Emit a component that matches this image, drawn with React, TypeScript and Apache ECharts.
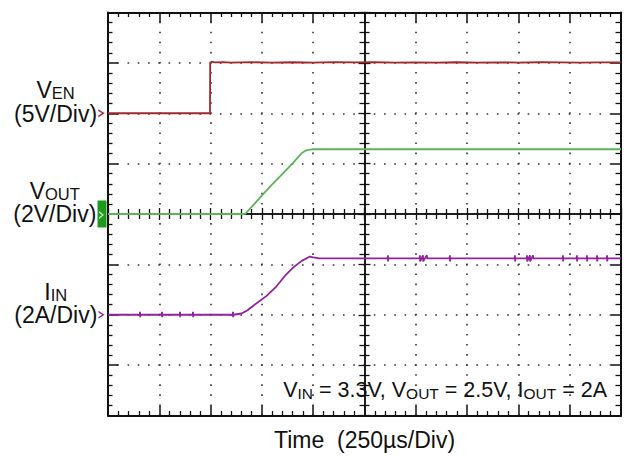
import { useEffect, useRef } from "react";
import * as echarts from "echarts";

// ---- Scope settings ----
const X_MIN_US = 0;
const X_MAX_US = 2500;
const TIME_PER_DIV_US = 250;
const Y_HALF_DIVS = 4;

// channel scale (units per division) and ground-marker offset (divisions from centre)
const VEN_SCALE = 5;
const VEN_OFFSET = 2;
const VOUT_SCALE = 2;
const VOUT_OFFSET = 0;
const IIN_SCALE = 2;
const IIN_OFFSET = -2;

// ---- Traces: [time µs, value in V or A] ----
const venPoints: [number, number][] = [
  [0, 0], [497, 0], [498, 5.0], [505, 5.12], [520, 5.05], [560, 5.08], [600, 5.03],
  [700, 5.07], [800, 5.02], [900, 5.06], [1000, 5.03], [1100, 5.07], [1200, 5.04],
  [1300, 5.06], [1400, 5.02], [1500, 5.05], [1600, 5.03], [1700, 5.06], [1800, 5.02],
  [1900, 5.05], [2000, 5.03], [2100, 5.06], [2200, 5.04], [2300, 5.02], [2400, 5.05], [2500, 5.04],
];

const voutPoints: [number, number][] = [
  [0, 0], [668, 0], [700, 0.28], [757, 0.8], [800, 1.18], [854, 1.62],
  [903, 2.04], [944, 2.42], [970, 2.54], [993, 2.57], [2500, 2.57],
];

const iinPoints: [number, number][] = [
  [0, 0], [155, 0], [156, 0.12], [157, -0.1], [158, 0],
  [262, 0], [263, 0.12], [264, -0.1], [265, 0],
  [350, 0], [351, 0.12], [352, -0.1], [353, 0],
  [413, 0], [414, 0.12], [415, -0.1], [416, 0],
  [608, 0], [609, 0.12], [610, -0.1], [611, 0],
  [651, 0.05], [680, 0.18], [708, 0.36], [773, 0.75], [820, 1.12], [863, 1.55],
  [903, 1.88], [944, 2.14], [984, 2.31], [1000, 2.28], [1030, 2.24],
  [1363, 2.24], [1364, 2.36], [1365, 2.12], [1366, 2.24],
  [1519, 2.24], [1520, 2.36], [1521, 2.12], [1535, 2.36], [1536, 2.12], [1554, 2.36], [1555, 2.24],
  [1665, 2.24], [1666, 2.36], [1667, 2.12], [1668, 2.24],
  [1982, 2.24], [1983, 2.36], [1984, 2.12], [1985, 2.24],
  [2041, 2.24], [2042, 2.36], [2043, 2.12], [2056, 2.36], [2057, 2.12], [2071, 2.36], [2072, 2.24],
  [2216, 2.24], [2217, 2.36], [2218, 2.12], [2219, 2.24],
  [2284, 2.24], [2285, 2.36], [2286, 2.12], [2287, 2.24],
  [2333, 2.24], [2334, 2.36], [2335, 2.12], [2336, 2.24],
  [2382, 2.24], [2383, 2.36], [2384, 2.12], [2385, 2.24],
  [2431, 2.24], [2432, 2.36], [2433, 2.12], [2434, 2.24], [2500, 2.24],
];

// ---- Texts ----
const venLabel = ["V", "EN", "(5V/Div)"];
const voutLabel = ["V", "OUT", "(2V/Div)"];
const iinLabel = ["I", "IN", "(2A/Div)"];
const conditionParts = ["V", "IN", "\u00a0= 3.3V, V", "OUT", "\u00a0= 2.5V, I", "OUT", "\u00a0= 2A"];
const xAxisTitle = "Time\u00a0 (250µs/Div)";

// ---- Styles ----
const FONT = "'Liberation Sans', Arial, sans-serif";
const TEXT_COLOR = "#111111";
const FRAME = "#111111";
const VEN_COLOR = "#a3272b";
const VOUT_COLOR = "#5cb35c";
const IIN_COLOR = "#93209f";
const MARKER_GREEN = "#1c9a1c";

const toDivs = (pts: [number, number][], scale: number, offset: number) =>
  pts.map(([t, v]) => [t, offset + v / scale]);

const labelRich = {
  v: { fontSize: 23, fontFamily: FONT, color: TEXT_COLOR, align: "center", verticalAlign: "bottom", lineHeight: 23.5 },
  s: { fontSize: 16.5, fontFamily: FONT, color: TEXT_COLOR, align: "center", verticalAlign: "bottom", lineHeight: 19 },
  m: { fontSize: 23, fontFamily: FONT, color: TEXT_COLOR, align: "center", verticalAlign: "bottom", lineHeight: 23.5 },
};

const sideLabel = (parts: string[], distance: number) => ({
  show: true,
  position: "left",
  distance,
  offset: [0, -11.75],
  formatter: `{v|${parts[0]}}{s|${parts[1]}}\n{m|${parts[2]}}`,
  rich: labelRich,
});

const CHEVRON = "path://M0,0L6,3.5L0,7L0,5.4L3.6,3.5L0,1.6Z";

export default function App() {
  const ref = useRef<HTMLDivElement>(null);

  useEffect(() => {
    document.body.style.margin = "0";
    if (!ref.current) return;
    const chart = echarts.init(ref.current, null, { renderer: "svg" });

    const frameX = {
      type: "value",
      min: X_MIN_US,
      max: X_MAX_US,
      interval: TIME_PER_DIV_US,
      axisLabel: { show: false },
      axisLine: { show: true, onZero: false, lineStyle: { color: FRAME, width: 2 } },
      axisTick: { show: true, inside: true, length: 10, lineStyle: { color: FRAME, width: 1.5 } },
      minorTick: { show: true, splitNumber: 5, length: 4.5, lineStyle: { color: FRAME, width: 1.3 } },
      splitLine: { show: false },
    };
    const frameY = {
      type: "value",
      min: -Y_HALF_DIVS,
      max: Y_HALF_DIVS,
      interval: 1,
      axisLabel: { show: false },
      axisLine: { show: true, onZero: false, lineStyle: { color: FRAME, width: 2 } },
      axisTick: { show: true, inside: true, length: 10, lineStyle: { color: FRAME, width: 1.5 } },
      minorTick: { show: true, splitNumber: 5, length: 4.5, lineStyle: { color: FRAME, width: 1.3 } },
      splitLine: { show: false },
    };
    const centreX = (inside: boolean) => ({
      type: "value",
      position: "bottom",
      min: -(X_MAX_US - X_MIN_US) / 2,
      max: (X_MAX_US - X_MIN_US) / 2,
      interval: TIME_PER_DIV_US,
      axisLabel: { show: false },
      axisLine: { show: true, onZero: true, onZeroAxisIndex: 0, lineStyle: { color: FRAME, width: 1.5 } },
      axisTick: { show: true, inside, length: 6, lineStyle: { color: FRAME, width: 1.3 } },
      minorTick: { show: true, splitNumber: 5, length: 5, lineStyle: { color: FRAME, width: 1.3 } },
      splitLine: { show: false },
    });
    const centreY = (inside: boolean) => ({
      type: "value",
      position: "left",
      min: -Y_HALF_DIVS,
      max: Y_HALF_DIVS,
      interval: 1,
      axisLabel: { show: false },
      axisLine: { show: true, onZero: true, onZeroAxisIndex: 2, lineStyle: { color: FRAME, width: 1.5 } },
      axisTick: { show: true, inside, length: 6, lineStyle: { color: FRAME, width: 1.3 } },
      minorTick: { show: true, splitNumber: 5, length: 5, lineStyle: { color: FRAME, width: 1.3 } },
      splitLine: { show: false },
    });

    const option: any = {
      animation: false,
      grid: { left: 108, top: 12.5, width: 513, height: 403, outerBoundsMode: "none", containLabel: false },
      xAxis: [
        {
          ...frameX,
          position: "bottom",
          splitLine: {
            show: true,
            lineStyle: { color: "#333", width: 1.6, type: [1.6, 403 / 40 - 1.6], dashOffset: 0.8 },
          },
          name: xAxisTitle,
          nameLocation: "middle",
          nameGap: 13,
          nameTextStyle: { fontSize: 23, fontFamily: FONT, color: TEXT_COLOR },
        },
        { ...frameX, position: "top" },
        centreX(true),
        centreX(false),
      ],
      yAxis: [
        {
          ...frameY,
          position: "left",
          splitLine: {
            show: true,
            lineStyle: { color: "#333", width: 1.6, type: [1.6, 513 / 50 - 1.6], dashOffset: 0.8 },
          },
        },
        { ...frameY, position: "right", axisTick: { ...frameY.axisTick, length: 10 }, minorTick: { ...frameY.minorTick, length: 5.5 } },
        centreY(true),
        centreY(false),
      ],
      series: [
        {
          name: "VEN",
          type: "line",
          xAxisIndex: 0,
          yAxisIndex: 0,
          data: toDivs(venPoints, VEN_SCALE, VEN_OFFSET),
          showSymbol: false,
          lineStyle: { color: VEN_COLOR, width: 1.8 },
          itemStyle: { color: VEN_COLOR },
          z: 5,
          markPoint: {
            silent: true,
            symbol: CHEVRON,
            symbolSize: [6.5, 8],
            symbolOffset: [-6.5, 0],
            itemStyle: { color: VEN_COLOR },
            label: sideLabel(venLabel, 1.2),
            data: [{ coord: [X_MIN_US, VEN_OFFSET] }],
          },
        },
        {
          name: "VOUT",
          type: "line",
          xAxisIndex: 0,
          yAxisIndex: 0,
          data: toDivs(voutPoints, VOUT_SCALE, VOUT_OFFSET),
          showSymbol: false,
          lineStyle: { color: VOUT_COLOR, width: 1.8 },
          itemStyle: { color: VOUT_COLOR },
          z: 5,
          markPoint: {
            silent: true,
            data: [
              {
                coord: [X_MIN_US, VOUT_OFFSET],
                symbol: "rect",
                symbolSize: [9, 27],
                symbolOffset: [-6, 0],
                itemStyle: { color: MARKER_GREEN },
                label: sideLabel(voutLabel, 1.2),
              },
              {
                coord: [X_MIN_US, VOUT_OFFSET],
                symbol: CHEVRON,
                symbolSize: [5, 8],
                symbolOffset: [-6.5, 1],
                itemStyle: { color: "#c2f0c2" },
                label: { show: false },
              },
            ],
          },
        },
        {
          name: "IIN",
          type: "line",
          xAxisIndex: 0,
          yAxisIndex: 0,
          data: toDivs(iinPoints, IIN_SCALE, IIN_OFFSET),
          showSymbol: false,
          lineStyle: { color: IIN_COLOR, width: 1.8 },
          itemStyle: { color: IIN_COLOR },
          z: 5,
          markPoint: {
            silent: true,
            symbol: CHEVRON,
            symbolSize: [6, 8],
            symbolOffset: [-6.5, 0],
            itemStyle: { color: IIN_COLOR },
            label: sideLabel(iinLabel, 1.2),
            data: [{ coord: [X_MIN_US, IIN_OFFSET] }],
          },
        },
      ],
      graphic: [
        {
          type: "text",
          right: 28,
          top: 379,
          z: 10,
          style: {
            text: `{m|${conditionParts[0]}}{s|${conditionParts[1]}}{m|${conditionParts[2]}}{s|${conditionParts[3]}}{m|${conditionParts[4]}}{s|${conditionParts[5]}}{m|${conditionParts[6]}}`,
            rich: {
              m: { fontSize: 21.5, fontFamily: FONT, fill: TEXT_COLOR, verticalAlign: "bottom", lineHeight: 23 },
              s: { fontSize: 15.5, fontFamily: FONT, fill: TEXT_COLOR, verticalAlign: "bottom", lineHeight: 18.8 },
            },
          },
        },
      ],
    };

    chart.setOption(option);
    return () => chart.dispose();
  }, []);

  return <div ref={ref} style={{ width: 635, height: 456 }} />;
}
